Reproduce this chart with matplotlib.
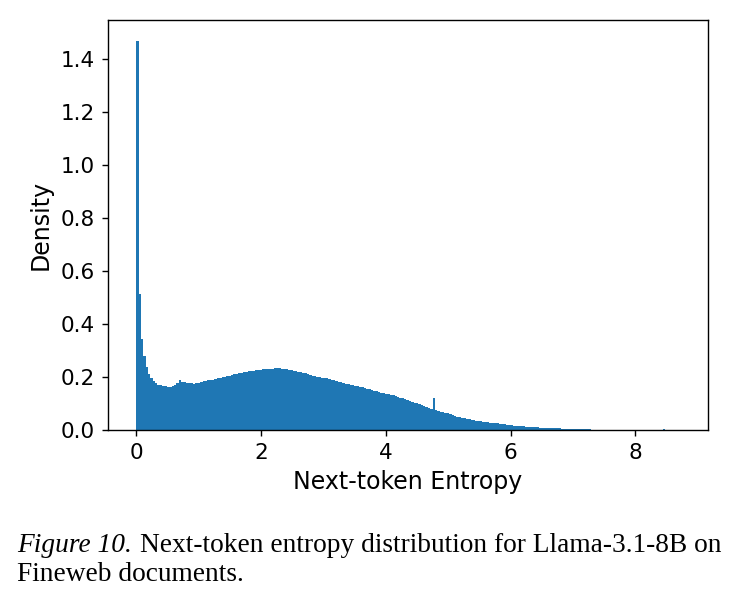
import matplotlib
matplotlib.use('Agg')
import matplotlib.pyplot as plt
import numpy as np

# histogram range
x_min = 0.0
x_max = 8.74

# bin densities, left to right
density = [
    1.470, 0.515, 0.345, 0.280, 0.238, 0.212, 0.196, 0.185, 0.177, 0.171,
    0.168, 0.166, 0.164, 0.163, 0.161, 0.165, 0.170, 0.176, 0.189, 0.180,
    0.179, 0.178, 0.177, 0.176, 0.175, 0.177, 0.178, 0.180, 0.183, 0.185,
    0.187, 0.189, 0.190, 0.192, 0.194, 0.197, 0.199, 0.201, 0.203, 0.205,
    0.207, 0.210, 0.212, 0.214, 0.216, 0.218, 0.220, 0.221, 0.223, 0.224,
    0.225, 0.226, 0.227, 0.228, 0.229, 0.228, 0.230, 0.231, 0.232, 0.235,
    0.233, 0.231, 0.230, 0.229, 0.227, 0.225, 0.224, 0.222, 0.220, 0.218,
    0.216, 0.213, 0.211, 0.208, 0.205, 0.203, 0.201, 0.199, 0.197, 0.196,
    0.194, 0.192, 0.190, 0.187, 0.184, 0.181, 0.179, 0.177, 0.175, 0.173,
    0.171, 0.169, 0.167, 0.165, 0.163, 0.160, 0.157, 0.155, 0.153, 0.151,
    0.148, 0.146, 0.144, 0.141, 0.139, 0.137, 0.135, 0.132, 0.130, 0.127,
    0.125, 0.122, 0.119, 0.116, 0.113, 0.110, 0.106, 0.103, 0.100, 0.096,
    0.093, 0.090, 0.087, 0.083, 0.079, 0.122, 0.075, 0.072, 0.069, 0.067,
    0.064, 0.062, 0.059, 0.056, 0.053, 0.050, 0.048, 0.046, 0.044, 0.042,
    0.040, 0.038, 0.036, 0.035, 0.034, 0.032, 0.031, 0.030, 0.029, 0.027,
    0.026, 0.025, 0.024, 0.023, 0.022, 0.021, 0.020, 0.019, 0.017, 0.016,
    0.015, 0.014, 0.0135, 0.013, 0.012, 0.0115, 0.011, 0.010, 0.0095, 0.009,
    0.0085, 0.008, 0.0075, 0.007, 0.0066, 0.0062, 0.0058, 0.0055, 0.0052, 0.0049,
    0.0046, 0.0043, 0.0040, 0.0037, 0.0034, 0.0031, 0.0028, 0.0025, 0.0022, 0.0019,
    0.0016, 0.0014, 0.0012, 0.0010, 0.0009, 0.0008, 0.0007, 0.0006, 0.0006, 0.0005,
    0.0005, 0.0004, 0.0004, 0.0004, 0.0003, 0.0003, 0.0003, 0.0003, 0.0002, 0.0002,
    0.0002, 0.0002, 0.0002, 0.0002, 0.0002, 0.0002, 0.0002, 0.0002, 0.0002, 0.0002,
    0.0002, 0.0002, 0.0030, 0.0001, 0.0001, 0.0001, 0.0001, 0.0001, 0.0001, 0.0001,
]

caption_italic = 'Figure 10.'
caption_line1 = 'Next-token entropy distribution for Llama-3.1-8B on'
caption_line2 = 'Fineweb documents.'

edges = np.linspace(x_min, x_max, len(density) + 1)

fig = plt.figure(figsize=(7.35, 6.02), dpi=100)
ax = fig.add_axes([0.147, 0.286, 0.816, 0.680])

ax.hist(edges[:-1], bins=edges, weights=density, color='#1f77b4')
ax.set_xlim(-0.45, 9.16)
ax.set_ylim(0, 1.547)
ax.set_xticks([0, 2, 4, 6, 8])
ax.set_yticks([0.0, 0.2, 0.4, 0.6, 0.8, 1.0, 1.2, 1.4])
ax.tick_params(labelsize=15.5, length=4.3, width=1.0, pad=5)
for s in ax.spines.values():
    s.set_linewidth(1.0)
ax.set_xlabel('Next-token Entropy', fontsize=17, labelpad=5)
ax.set_ylabel('Density', fontsize=17, labelpad=6)

# caption, italic part then regular part
serif = 'Liberation Serif'
t1 = fig.text(0.023, 0.0830, caption_italic, fontsize=19.7, family=serif,
              style='italic', va='baseline')
fig.canvas.draw()
bb = t1.get_window_extent()
x2 = (bb.x1 + 8) / fig.bbox.width
fig.text(x2, 0.0830, caption_line1, fontsize=19.7, family=serif, va='baseline')
fig.text(0.023, 0.0349, caption_line2, fontsize=19.7, family=serif, va='baseline')

plt.savefig('out.png', dpi=100)
